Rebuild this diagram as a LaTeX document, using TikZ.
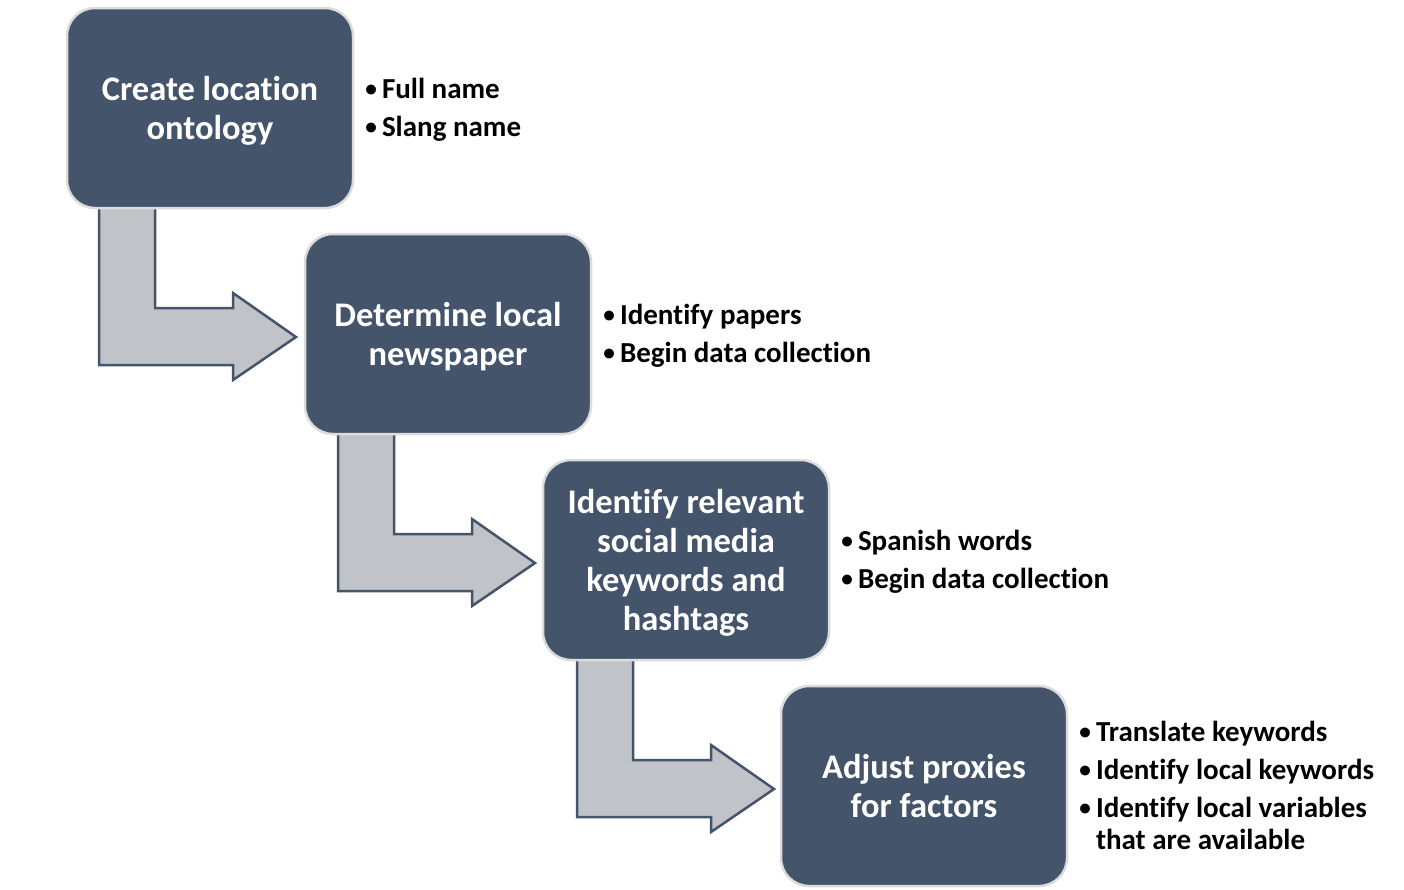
\documentclass[tikz,border=0pt]{standalone}
\usepackage{fontspec}
\setmainfont{Carlito}[Ligatures=CommonOff]
\usetikzlibrary{positioning,backgrounds}

\definecolor{slate}{HTML}{44546A}
\definecolor{arrowgray}{HTML}{C0C3C8}
\definecolor{rimgray}{HTML}{DCDCDC}

\newcommand{\dotmark}{\raisebox{0.12ex}{\scalebox{0.8}{\textbullet}}}

\begin{document}
\begin{tikzpicture}[
    x=1pt,
    y=-1pt,
    line join=miter,
    stepbox/.style={
        draw=rimgray,
        line width=2.5pt,
        fill=slate,
        rounded corners=28pt,
        minimum width=286pt,
        minimum height=200pt,
        inner sep=0pt,
        text depth=-1pt,
        align=center,
        text=white,
        font=\fontsize{34.5}{39}\selectfont\bfseries
    },
    notes/.style={
        inner sep=0pt,
        yshift=-3pt,
        font=\fontsize{29}{32}\selectfont\bfseries
    },
    bentarrow/.style={
        draw=slate,
        line width=2.5pt,
        fill=arrowgray
    }
]

\useasboundingbox (0,0) rectangle (1404,889);

% -------------------------------------------------
% Steps
% -------------------------------------------------

\node[stepbox] (create) at (210,108) {Create location\\ontology};
\node[stepbox] (newspaper) at (448,334) {Determine local\\newspaper};
\node[stepbox] (keywords) at (686,560)
    {Identify relevant\\social media\\keywords and\\hashtags};
\node[stepbox] (proxies) at (924,786) {Adjust proxies\\for factors};

% -------------------------------------------------
% Notes beside each step
% -------------------------------------------------

\node[notes, right=11pt of create.east] (createnotes) {%
    \begin{tabular}{@{}l@{\hspace{5pt}}l@{}}
    \dotmark & Full name\\[6pt]
    \dotmark & Slang name
    \end{tabular}};

\node[notes, right=11pt of newspaper.east] (newspapernotes) {%
    \begin{tabular}{@{}l@{\hspace{5pt}}l@{}}
    \dotmark & Identify papers\\[6pt]
    \dotmark & Begin data collection
    \end{tabular}};

\node[notes, right=11pt of keywords.east] (keywordsnotes) {%
    \begin{tabular}{@{}l@{\hspace{5pt}}l@{}}
    \dotmark & Spanish words\\[6pt]
    \dotmark & Begin data collection
    \end{tabular}};

\node[notes, right=11pt of proxies.east] (proxiesnotes) {%
    \begin{tabular}{@{}l@{\hspace{5pt}}l@{}}
    \dotmark & Translate keywords\\[6pt]
    \dotmark & Identify local keywords\\[6pt]
    \dotmark & Identify local variables\\
             & that are available
    \end{tabular}};

% -------------------------------------------------
% Bent arrows from one step down to the next
% -------------------------------------------------

\begin{scope}[on background layer]
\foreach \dx/\dy in {0/0, 239/226, 478/452} {
    \draw[bentarrow, shift={(\dx,\dy)}]
        (99,204) -- (155,204) -- (155,308) -- (233,308)
        -- (233,293) -- (296,337) -- (233,380) -- (233,365)
        -- (99,365) -- cycle;
}
\end{scope}

\end{tikzpicture}
\end{document}
